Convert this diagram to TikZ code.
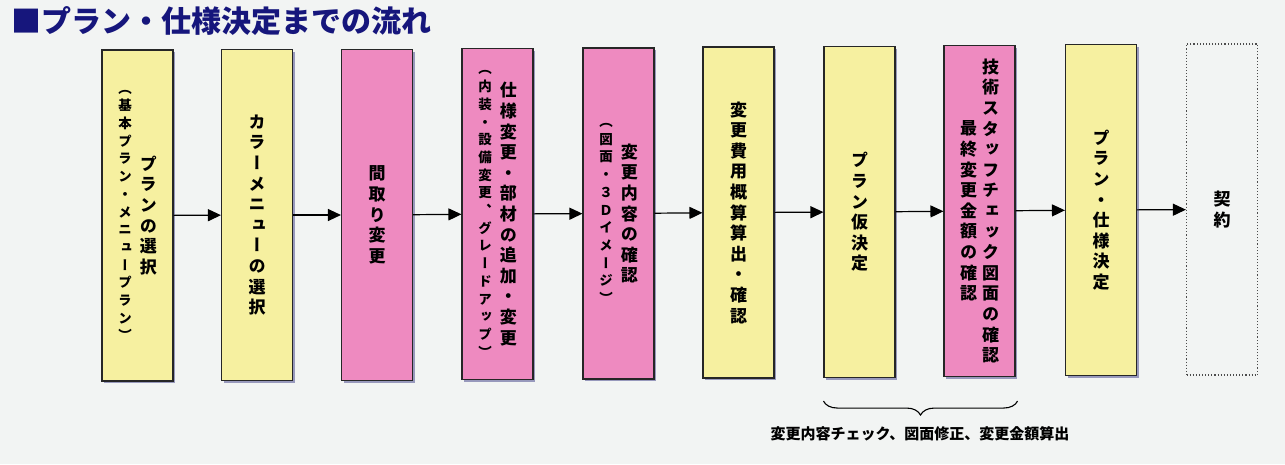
\documentclass[tikz,border=0pt]{standalone}
\usepackage{fontspec}
\setmainfont{Noto Sans CJK JP}
\newfontfamily\tatefont{Noto Sans CJK JP}[RawFeature=+vert]
\usetikzlibrary{arrows.meta, shadows, decorations.pathreplacing}

\definecolor{bgcol}{HTML}{F2F4F3}
\definecolor{ycol}{HTML}{F6F0A0}
\definecolor{pcol}{HTML}{EE8AC0}
\definecolor{navy}{HTML}{16167C}

\makeatletter
\newcommand\tatestack[2]{\vbox{\baselineskip=#1\lineskiplimit=-20pt\lineskip=0pt\tate@next#2\relax}}
\def\tate@next#1{\ifx\relax#1\else\hbox to 1em{\hss#1\hss}\expandafter\tate@next\fi}
\makeatother
\newcommand\tate[1]{{\tatefont\bfseries\fontsize{17pt}{20.5pt}\selectfont\tatestack{20.6pt}{#1}}}
\newcommand\tatesub[1]{{\tatefont\bfseries\fontsize{13.5pt}{17.5pt}\selectfont\tatestack{17.7pt}{#1}}}
\newcommand\twocol[3][8pt]{$\vcenter{#2}$\hspace{#1}$\vcenter{#3}$}

\begin{document}
\begin{tikzpicture}[x=1pt, y=-1pt,
    box/.style={draw=black!85, line width=1.1pt, minimum width=71pt, minimum height=331pt, inner sep=0pt},
    ybox/.style={box, fill=ycol, drop shadow={shadow xshift=2pt, shadow yshift=-2pt, fill=black!45!blue!50!gray}},
    pbox/.style={box, fill=pcol, drop shadow={shadow xshift=2pt, shadow yshift=-2pt, fill=black!45!blue!50!gray}},
    dbox/.style={box, draw=black!70, dotted, line width=1.2pt},
    >={Triangle[length=13pt, width=12pt]}]
    \fill [bgcol] (0, 0) rectangle (1285, 464);
    \node [anchor=west, text=navy, font=\bfseries\fontsize{30pt}{30pt}\selectfont] (title) at (8, 21) {■プラン・仕様決定までの流れ};
    \node [ybox] (b1) at (137.5, 215.5) {\twocol{\tatesub{︵基本プラン・メニュープラン︶}}{\tate{プランの選択}}};
    \node [ybox] (b2) at (257, 215) {\tate{カラーメニューの選択}};
    \node [pbox] (b3) at (377, 215) {\tate{間取り変更}};
    \node [pbox] (b4) at (497.5, 214) {\twocol{\tatesub{︵内装・設備変更、グレードアップ︶}}{\tate{仕様変更・部材の追加・変更}}};
    \node [pbox] (b5) at (618.5, 213.5) {\twocol{\tatesub{︵図面・３Ｄイメージ︶}}{\tate{変更内容の確認}}};
    \node [ybox] (b6) at (738.5, 212.5) {\tate{変更費用概算算出・確認}};
    \node [ybox] (b7) at (859.5, 212) {\tate{プラン仮決定}};
    \node [pbox] (b8) at (979.5, 211) {\twocol[5pt]{\tate{最終変更金額の確認}}{\tate{技術スタッフチェック図面の確認}}};
    \node [ybox] (b9) at (1101, 210) {\tate{プラン・仕様決定}};
    \node [dbox] (b10) at (1222, 209.5) {\tate{契約}};
    \draw [->, line width=1.2pt] (b1) -- (b2);
    \draw [->, line width=1.2pt] (b2) -- (b3);
    \draw [->, line width=1.2pt] (b3) -- (b4);
    \draw [->, line width=1.2pt] (b4) -- (b5);
    \draw [->, line width=1.2pt] (b5) -- (b6);
    \draw [->, line width=1.2pt] (b6) -- (b7);
    \draw [->, line width=1.2pt] (b7) -- (b8);
    \draw [->, line width=1.2pt] (b8) -- (b9);
    \draw [->, line width=1.2pt] (b9) -- (b10);
    \coordinate (c1) at ([yshift=-23pt]b7.south west);
    \coordinate (c2) at ([xshift=2pt, yshift=-24pt]b8.south east);
    \draw [decorate, decoration={brace, mirror, amplitude=14pt}, line width=1.1pt] (c1) -- (c2);
    \node [font=\bfseries\fontsize{15pt}{15pt}\selectfont] (note) at (920, 434) {変更内容チェック、図面修正、変更金額算出};
  \end{tikzpicture}
\end{document}
